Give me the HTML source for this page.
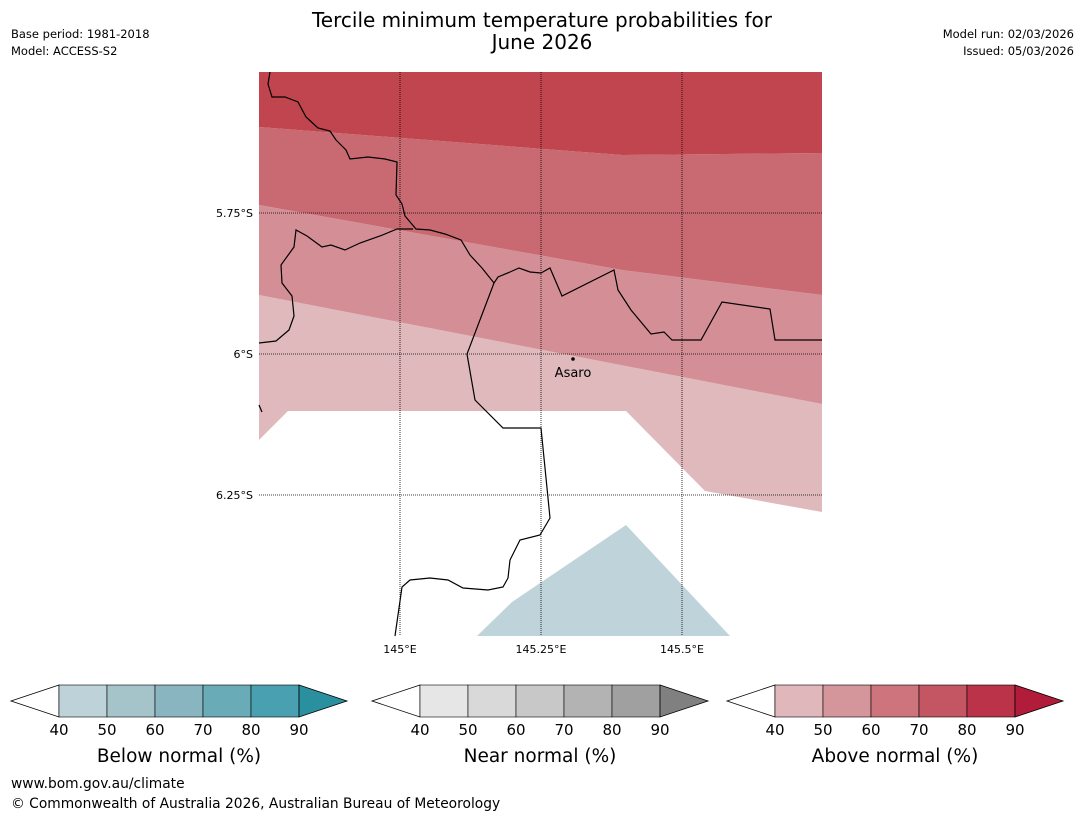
<!DOCTYPE html>
<html><head><meta charset="utf-8"><style>
body{margin:0;background:#fff;width:1085px;height:816px;overflow:hidden;font-family:"Liberation Sans","DejaVu Sans",sans-serif}
svg{position:absolute;left:0;top:0}
</style></head><body>
<svg width="1085" height="816" font-family="DejaVu Sans, Liberation Sans, sans-serif">
<text x="542" y="27" font-size="20" text-anchor="middle">Tercile minimum temperature probabilities for</text>
<text x="542" y="49" font-size="20" text-anchor="middle">June 2026</text>
<text x="11" y="38" font-size="11.5">Base period: 1981-2018</text>
<text x="11" y="55" font-size="11.5">Model: ACCESS-S2</text>
<text x="1074" y="38" font-size="11.5" text-anchor="end">Model run: 02/03/2026</text>
<text x="1074" y="55" font-size="11.5" text-anchor="end">Issued: 05/03/2026</text>
<g id="map"></g>
<g id="bars"></g>
<text x="11" y="788" font-size="13.8">www.bom.gov.au/climate</text>
<text x="11" y="808" font-size="13.8">© Commonwealth of Australia 2026, Australian Bureau of Meteorology</text>
</svg>
<script>
const lonTicks=[145,145.25,145.5];
const lonLabels=["145°E","145.25°E","145.5°E"];
const latTicks=[5.75,6,6.25];
const latLabels=["5.75°S","6°S","6.25°S"];
const binLevels=[40,50,60,70,80,90];
const blueColors=["#bdd3d9","#a5c4ca","#88b5bf","#6aabb8","#49a0b0","#2a8f9f"];
const grayColors=["#e6e6e6","#d9d9d9","#c8c8c8","#b3b3b3","#a0a0a0","#808080"];
const redColors=["#e0b8bc","#d4959b","#cd747c","#c45562","#bb3348","#b01c3a"];
const L0=144.75,L1=145.75,T0=5.5,T1=6.5;
const X=lon=>259+(lon-L0)*564;
const Y=lat=>72+(lat-T0)*564;
const NS="http://www.w3.org/2000/svg";
const map=document.getElementById('map');
function el(t,a,p){const e=document.createElementNS(NS,t);for(const k in a)e.setAttribute(k,a[k]);(p||map).appendChild(e);return e;}
const bands=[
 ["#e0b9bc","259,295 822,404 822,512 705,491 626,411 288,411 259,440"],
 ["#d48f96","259,205 622,270 822,295 822,404 259,295"],
 ["#c96a72","259,127 622,155 822,153 822,295 622,270 259,205"],
 ["#c0454f","259,72 822,72 822,153 622,155 259,127"],
 ["#bfd4da","477,636 512,602 626,525 730,636"]];
bands.forEach((b,i)=>{const p=el('polygon',{points:b[1],fill:b[0]});

});
lonTicks.forEach((v,i)=>{el('line',{x1:X(v),x2:X(v),y1:72,y2:636,stroke:'#000','stroke-width':0.8,'stroke-dasharray':'1,1'});
const t=el('text',{x:X(v),y:653,'font-size':11,'text-anchor':'middle'});t.textContent=lonLabels[i];

});
latTicks.forEach((v,i)=>{el('line',{x1:259,x2:822,y1:Y(v),y2:Y(v),stroke:'#000','stroke-width':0.8,'stroke-dasharray':'1,1'});
const t=el('text',{x:253,y:Y(v)+4,'font-size':11,'text-anchor':'end'});t.textContent=latLabels[i];

});
const b1=el('path',{d:"M270,72 L268,84 L272,97 L285,97 L298,102 L306,117 L318,128 L330,131 L336,140 L346,150 L350,159 L368,157 L385,159 L397,162 L396,195 L402,204 L405,216 L416,229 L430,230 L445,234 L461,240 L470,255 L482,268 L494,283 L498,277 L510,272 L519,268 L530,272 L541,273 L550,268 L562,296 L614,270 L618,290 L631,310 L651,334 L664,332 L672,340 L701,340 L722,302 L770,309 L775,340 L822,340",fill:'none',stroke:'#000','stroke-width':1.2});


const b2=el('path',{d:"M259,343 L276,341 L289,330 L294,316 L292,296 L282,283 L281,265 L294,247 L296,230 L307,236 L322,247 L331,245 L345,250 L360,243 L380,236 L397,229 L413,229 M494,283 L467,354 L475,400 L503,428 L541,428 L550,518 L540,535 L520,540 L510,560 L508,578 L503,587 L488,590 L463,588 L448,580 L430,578 L410,580 L402,587 L395,636",fill:'none',stroke:'#000','stroke-width':1.2});


el('path',{d:"M259,405 L262,412",stroke:'#000',fill:'none','stroke-width':1.2});
el('circle',{cx:573,cy:359,r:1.8,fill:'#000'});
const tn=el('text',{x:573,y:377,'font-size':13,'text-anchor':'middle'});tn.textContent='Asaro';


const bars=document.getElementById('bars');
function bar(x0,cols,label,name){const g=el('g',{},bars);


const w=48,y0=685,h=32;
el('polygon',{points:`${x0+48},${y0} ${x0},${y0+h/2} ${x0+48},${y0+h}`,fill:'#fff',stroke:'#000','stroke-width':0.8},g);
for(let i=0;i<binLevels.length-1;i++)el('rect',{x:x0+48+i*w,y:y0,width:w,height:h,fill:cols[i],stroke:'#000','stroke-width':0.6},g);
const xe=x0+48+(binLevels.length-1)*w;
el('polygon',{points:`${xe},${y0} ${xe+48},${y0+h/2} ${xe},${y0+h}`,fill:cols[5],stroke:'#000','stroke-width':0.8},g);
binLevels.forEach((v,i)=>{const t=el('text',{x:x0+48+i*w,y:735,'font-size':15,'text-anchor':'middle'},g);t.textContent=v;});
const t=el('text',{x:x0+168,y:762,'font-size':18.5,'text-anchor':'middle'},g);t.textContent=label;}
bar(11,blueColors,'Below normal (%)','colorbar-below');
bar(372,grayColors,'Near normal (%)','colorbar-near');
bar(727,redColors,'Above normal (%)','colorbar-above');
</script>
</body></html>
